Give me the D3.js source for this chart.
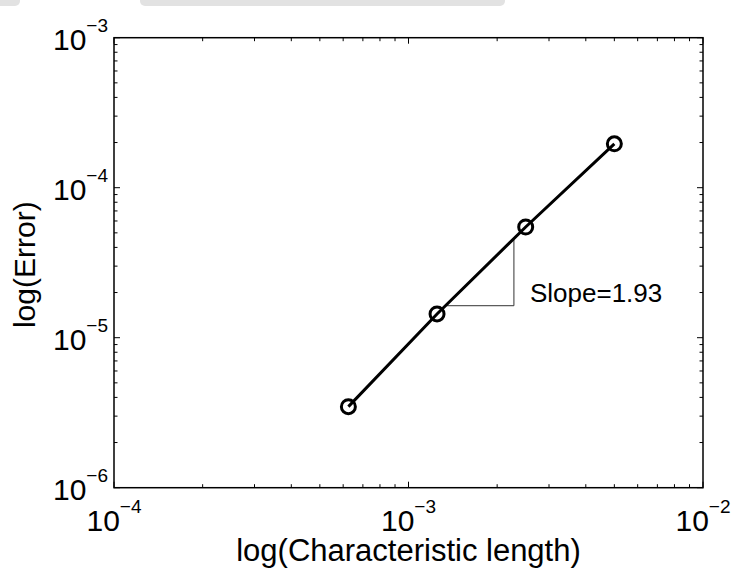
<!DOCTYPE html>
<html>
<head>
<meta charset="utf-8">
<script src="https://cdn.jsdelivr.net/npm/d3@7"></script>
<style>
    html, body { margin: 0; padding: 0; background: #fff; }
    text { font-family: "Liberation Sans", Arial, Helvetica, sans-serif; fill: #000; }
</style>
</head>
<body>
<div id="chart"></div>
<script>
// Characteristic length (x) vs error (y)
const lengths = [6.25e-4, 1.25e-3, 2.5e-3, 5e-3];
const errors = [3.47e-6, 1.44e-5, 5.47e-5, 1.96e-4];

// Slope triangle corners and its label
const triangleX = [1.32e-3, 2.28e-3];
const triangleY = [1.634e-5, 4.48e-5];
const slopeLabel = { text: "Slope=1.93", x: 2.585e-3, y: 1.73e-5 };

// Axis domains (decades) and titles
const xDomain = [1e-4, 1e-2];
const yDomain = [1e-6, 1e-3];
const xTitle = "log(Characteristic length)";
const yTitle = "log(Error)";

class LogLogChart {

    /**
     * @param config - object, container size and axes box
     */
    constructor(config) {
        this.config = config;
        this.initVis();
    }

    initVis() {
        const vis = this;
        const box = vis.config.box;

        vis.xScale = d3.scaleLog().domain(xDomain).range([box.left, box.right]);
        vis.yScale = d3.scaleLog().domain(yDomain).range([box.bottom, box.top]);

        vis.svg = d3.select(vis.config.parentElement)
            .append("svg")
            .attr("width", vis.config.containerWidth)
            .attr("height", vis.config.containerHeight);

        // faint grey strip left over at the top of the screenshot
        vis.svg.selectAll(".strip")
            .data([[-10, 20], [140, 505]])
            .join("rect")
            .attr("class", "strip")
            .attr("x", d => d[0])
            .attr("y", -6)
            .attr("width", d => d[1] - d[0])
            .attr("height", 12)
            .attr("rx", 5)
            .attr("fill", "#e2e2e2");

        vis.renderVis();
    }

    renderVis() {
        const vis = this;
        const box = vis.config.box;
        const isMajor = d => Math.abs(Math.log10(d) - Math.round(Math.log10(d))) < 1e-9;
        const tickLen = d => isMajor(d) ? 6 : 3.5;

        const xTicks = vis.xScale.ticks();
        const yTicks = vis.yScale.ticks();

        const ticks = vis.svg.append("g")
            .attr("stroke", "#000")
            .attr("stroke-width", 1);

        // x ticks inside, bottom and top
        ticks.selectAll(".xtick-b")
            .data(xTicks)
            .join("line")
            .attr("x1", d => vis.xScale(d))
            .attr("x2", d => vis.xScale(d))
            .attr("y1", box.bottom)
            .attr("y2", d => box.bottom - tickLen(d));
        ticks.selectAll(".xtick-t")
            .data(xTicks)
            .join("line")
            .attr("x1", d => vis.xScale(d))
            .attr("x2", d => vis.xScale(d))
            .attr("y1", box.top)
            .attr("y2", d => box.top + tickLen(d));

        // y ticks inside, left and right
        ticks.selectAll(".ytick-l")
            .data(yTicks)
            .join("line")
            .attr("y1", d => vis.yScale(d))
            .attr("y2", d => vis.yScale(d))
            .attr("x1", box.left)
            .attr("x2", d => box.left + tickLen(d));
        ticks.selectAll(".ytick-r")
            .data(yTicks)
            .join("line")
            .attr("y1", d => vis.yScale(d))
            .attr("y2", d => vis.yScale(d))
            .attr("x1", box.right)
            .attr("x2", d => box.right - tickLen(d));

        // axes box
        vis.svg.append("rect")
            .attr("x", box.left)
            .attr("y", box.top)
            .attr("width", box.right - box.left)
            .attr("height", box.bottom - box.top)
            .attr("fill", "none")
            .attr("stroke", "#000")
            .attr("stroke-width", 1.5);

        // decade labels as 10^n
        const addPower = (sel) => {
            sel.append("tspan")
                .style("font-size", "30px")
                .text("10");
            sel.append("tspan")
                .attr("dy", -18)
                .style("font-size", "19px")
                .text(d => "\u2212" + Math.abs(Math.round(Math.log10(d))));
        };

        vis.svg.selectAll(".xlabel")
            .data(xTicks.filter(isMajor))
            .join("text")
            .attr("class", "xlabel")
            .attr("x", d => vis.xScale(d))
            .attr("y", box.bottom + 43)
            .style("text-anchor", "middle")
            .call(addPower);

        vis.svg.selectAll(".ylabel")
            .data(yTicks.filter(isMajor))
            .join("text")
            .attr("class", "ylabel")
            .attr("x", box.left - 6)
            .attr("y", d => vis.yScale(d) + 12)
            .style("text-anchor", "end")
            .call(addPower);

        // axis titles
        vis.svg.append("text")
            .attr("x", (box.left + box.right) / 2)
            .attr("y", 561)
            .style("text-anchor", "middle")
            .style("font-size", "31px")
            .text(xTitle);

        vis.svg.append("text")
            .attr("transform", `translate(35, ${(box.top + box.bottom) / 2 + 2}) rotate(-90)`)
            .style("text-anchor", "middle")
            .style("font-size", "30px")
            .text(yTitle);

        // slope triangle
        const tri = [
            [triangleX[0], triangleY[0]],
            [triangleX[1], triangleY[0]],
            [triangleX[1], triangleY[1]]
        ];
        vis.svg.append("path")
            .datum(tri)
            .attr("d", d3.line().x(d => vis.xScale(d[0])).y(d => vis.yScale(d[1])))
            .attr("fill", "none")
            .attr("stroke", "#333")
            .attr("stroke-width", 1);

        vis.svg.append("text")
            .attr("x", vis.xScale(slopeLabel.x))
            .attr("y", vis.yScale(slopeLabel.y))
            .style("font-size", "26px")
            .text(slopeLabel.text);

        // data line and circle markers
        const points = lengths.map((x, i) => ({ x: x, y: errors[i] }));

        vis.svg.append("path")
            .datum(points)
            .attr("d", d3.line().x(d => vis.xScale(d.x)).y(d => vis.yScale(d.y)))
            .attr("fill", "none")
            .attr("stroke", "#000")
            .attr("stroke-width", 3);

        vis.svg.selectAll(".marker")
            .data(points)
            .join("circle")
            .attr("class", "marker")
            .attr("cx", d => vis.xScale(d.x))
            .attr("cy", d => vis.yScale(d.y))
            .attr("r", 7)
            .attr("fill", "none")
            .attr("stroke", "#000")
            .attr("stroke-width", 3);
    }
}

new LogLogChart({
    parentElement: "#chart",
    containerWidth: 734,
    containerHeight: 568,
    box: { left: 114, right: 703, top: 37.7, bottom: 487.7 }
});
</script>
</body>
</html>
